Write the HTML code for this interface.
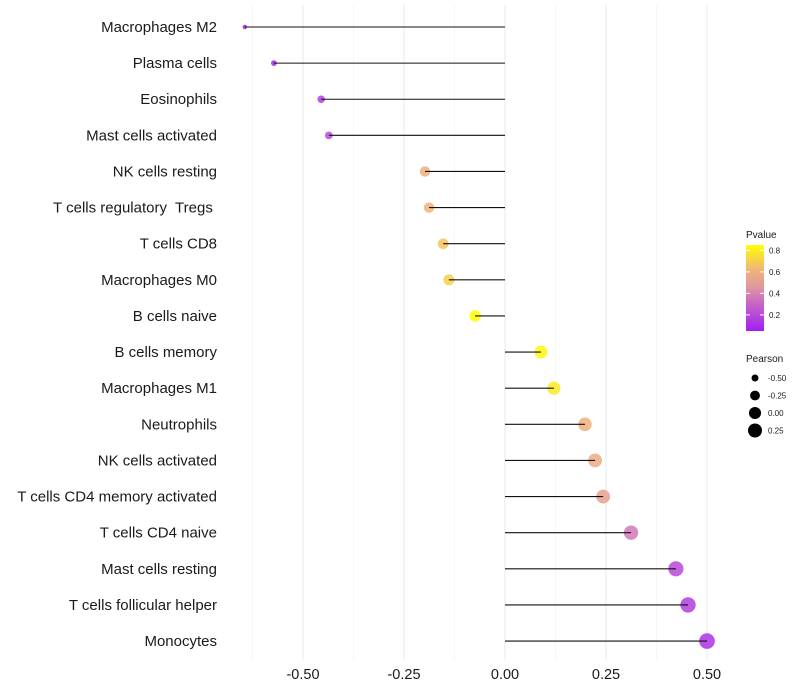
<!DOCTYPE html>
<html><head><meta charset="utf-8"><style>
html,body{margin:0;padding:0;background:#fff}
svg{display:block;font-family:"Liberation Sans",sans-serif}
</style></head><body>
<svg id="chart" width="800" height="700"></svg>
<script>
const categories=["Macrophages M2","Plasma cells","Eosinophils","Mast cells activated","NK cells resting","T cells regulatory  Tregs ","T cells CD8","Macrophages M0","B cells naive","B cells memory","Macrophages M1","Neutrophils","NK cells activated","T cells CD4 memory activated","T cells CD4 naive","Mast cells resting","T cells follicular helper","Monocytes"];
const pearson=[-0.644,-0.572,-0.455,-0.436,-0.198,-0.188,-0.153,-0.139,-0.074,0.089,0.121,0.198,0.223,0.243,0.312,0.423,0.453,0.500];
const pvalue=[0.05,0.08,0.16,0.22,0.6,0.62,0.67,0.71,0.85,0.83,0.79,0.6,0.57,0.52,0.36,0.2,0.16,0.12];
const xTicks=[-0.5,-0.25,0,0.25,0.5];
const xTickLabels=["-0.50","-0.25","0.00","0.25","0.50"];
const xMinor=[-0.625,-0.375,-0.125,0.125,0.375];
const colorTicks=[0.2,0.4,0.6,0.8];
const sizeLegend=[-0.5,-0.25,0,0.25];
const sizeLegendLabels=["-0.50","-0.25","0.00","0.25"];

const NS="http://www.w3.org/2000/svg";
const svg=document.getElementById('chart');
function mk(t,a,p){const e=document.createElementNS(NS,t);for(const k in a)e.setAttribute(k,a[k]);(p||svg).appendChild(e);return e;}
const xS=v=>505+v*404;
const yS=i=>27+i*36.12;
const rS=v=>Math.sqrt(Math.max(3,36.7+49.3*v));
const stops=[[0.05,[160,32,240]],[0.3,[200,100,200]],[0.45,[222,150,160]],[0.62,[240,180,120]],[0.85,[255,255,0]]];
function col(p){if(p<=stops[0][0])return 'rgb('+stops[0][1]+')';for(let i=1;i<stops.length;i++){if(p<=stops[i][0]){const t=(p-stops[i-1][0])/(stops[i][0]-stops[i-1][0]);const c=stops[i-1][1].map((a,j)=>Math.round(a+(stops[i][1][j]-a)*t));return 'rgb('+c+')';}}return 'rgb('+stops[stops.length-1][1]+')';}

xMinor.forEach(v=>{const l=mk('line',{x1:xS(v),x2:xS(v),y1:5,y2:660,stroke:'#f2f2f2','stroke-width':0.6});

});
xTicks.forEach((v,i)=>{const l=mk('line',{x1:xS(v),x2:xS(v),y1:5,y2:660,stroke:'#ebebeb','stroke-width':1.1});


const t=mk('text',{x:xS(v),y:679,'text-anchor':'middle','font-size':14.5,fill:'#1a1a1a'});t.textContent=xTickLabels[i];

});

categories.forEach((c,i)=>{
const y=yS(i);
const t=mk('text',{x:217,y:y+5,'text-anchor':'end','font-size':15,fill:'#1a1a1a','xml:space':'preserve',style:'white-space:pre'});t.textContent=c;


const pt=mk('circle',{cx:xS(pearson[i]),cy:y,r:rS(pearson[i]),fill:col(pvalue[i]),'fill-opacity':0.85});


const ln=mk('line',{x1:xS(0),x2:xS(pearson[i]),y1:y,y2:y,stroke:'#111','stroke-width':1.1});


});

const g=mk('g',{});
const tt=mk('text',{x:746,y:238,'font-size':10,fill:'#1a1a1a'},g);tt.textContent='Pvalue';
const defs=mk('defs',{});
const lg=mk('linearGradient',{id:'pg',x1:0,y1:1,x2:0,y2:0},defs);
stops.forEach(s=>mk('stop',{offset:(s[0]-0.05)/0.8,'stop-color':'rgb('+s[1]+')'},lg));
const cb={top:245,bot:331};
mk('rect',{x:746,y:cb.top,width:18,height:cb.bot-cb.top,fill:'url(#pg)'},g);
const pY=p=>cb.bot-(p-0.05)/0.8*(cb.bot-cb.top);
colorTicks.forEach(p=>{mk('line',{x1:746,x2:750,y1:pY(p),y2:pY(p),stroke:'#fff'},g);mk('line',{x1:760,x2:764,y1:pY(p),y2:pY(p),stroke:'#fff'},g);
const t=mk('text',{x:769,y:pY(p)+3,'font-size':8,fill:'#1a1a1a'},g);t.textContent=p.toFixed(1);});

const g2=mk('g',{});
const t2=mk('text',{x:746,y:362,'font-size':10,fill:'#1a1a1a'},g2);t2.textContent='Pearson';
sizeLegend.forEach((v,i)=>{const y=378+i*17.5;mk('circle',{cx:755,cy:y,r:rS(v),fill:'#000'},g2);
const t=mk('text',{x:768,y:y+3,'font-size':8,fill:'#1a1a1a'},g2);t.textContent=sizeLegendLabels[i];});
</script>
</body></html>
